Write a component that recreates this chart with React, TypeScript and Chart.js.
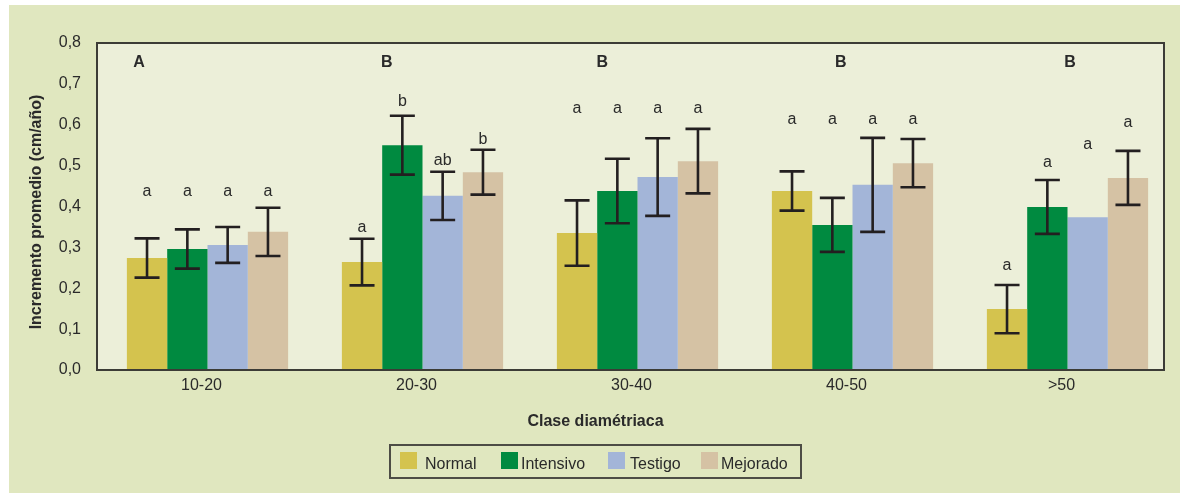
import React, { useEffect, useRef } from 'react';
import { Chart, registerables } from 'chart.js';

Chart.register(...registerables);

const categories = ['10-20', '20-30', '30-40', '40-50', '>50'];
const seriesNames = ['Normal', 'Intensivo', 'Testigo', 'Mejorado'];
const seriesColors = ['#d4c34e', '#008a40', '#a3b5d8', '#d5c2a4'];

const normal = [0.274, 0.264, 0.335, 0.438, 0.149];
const intensivo = [0.296, 0.55, 0.438, 0.355, 0.399];
const testigo = [0.306, 0.426, 0.472, 0.453, 0.374];
const mejorado = [0.338, 0.484, 0.511, 0.506, 0.47];

const normalErr = [0.048, 0.057, 0.08, 0.048, 0.059];
const intensivoErr = [0.048, 0.072, 0.079, 0.066, 0.066];
const testigoErr = [0.044, 0.059, 0.095, 0.115, null];
const mejoradoErr = [0.059, 0.055, 0.079, 0.059, 0.066];

const normalLetters = ['a', 'a', 'a', 'a', 'a'];
const intensivoLetters = ['a', 'b', 'a', 'a', 'a'];
const testigoLetters = ['a', 'ab', 'a', 'a', 'a'];
const mejoradoLetters = ['a', 'b', 'a', 'a', 'a'];

// baseline height (in axis units) of the significance letters
const normalLetterY = [0.426, 0.338, 0.629, 0.601, 0.245];
const intensivoLetterY = [0.426, 0.646, 0.629, 0.601, 0.496];
const testigoLetterY = [0.426, 0.502, 0.629, 0.601, 0.54];
const mejoradoLetterY = [0.426, 0.553, 0.629, 0.601, 0.595];

const groupLetters = ['A', 'B', 'B', 'B', 'B'];
const groupLetterY = 0.742;
const groupLetterShift = [-0.318, -0.166, -0.164, -0.054, 0.012];

const yMin = 0;
const yMax = 0.8;
const yStep = 0.1;

const xTitle = 'Clase diamétriaca';
const yTitle = 'Incremento promedio (cm/año)';

const values = [normal, intensivo, testigo, mejorado];
const errors = [normalErr, intensivoErr, testigoErr, mejoradoErr];
const letters = [normalLetters, intensivoLetters, testigoLetters, mejoradoLetters];
const letterYs = [normalLetterY, intensivoLetterY, testigoLetterY, mejoradoLetterY];

const FONT = '"Liberation Sans", Arial, Helvetica, sans-serif';
const TEXT = '#2a2a2a';

const decorPlugin = {
  id: 'decor',
  beforeDraw(chart: any) {
    const { ctx, chartArea } = chart;
    const l = chartArea.left - 3;
    const r = chartArea.right - 11;
    ctx.save();
    ctx.fillStyle = '#ecefd9';
    ctx.fillRect(l, chartArea.top, r - l, chartArea.bottom - chartArea.top);
    ctx.restore();
  },
  afterDatasetsDraw(chart: any) {
    const { ctx, chartArea, scales } = chart;
    const ys = scales.y;
    const xs = scales.x;
    ctx.save();
    // error bars
    ctx.strokeStyle = '#231f20';
    ctx.lineWidth = 2.6;
    ctx.lineCap = 'butt';
    values.forEach((_, i) => {
      const meta = chart.getDatasetMeta(i);
      meta.data.forEach((bar: any, j: number) => {
        const e = errors[i][j];
        if (e == null) return;
        const v = values[i][j];
        const yt = ys.getPixelForValue(v + e);
        const yb = ys.getPixelForValue(v - e);
        const x = bar.x;
        ctx.beginPath();
        ctx.moveTo(x, yt);
        ctx.lineTo(x, yb);
        ctx.moveTo(x - 12.5, yt);
        ctx.lineTo(x + 12.5, yt);
        ctx.moveTo(x - 12.5, yb);
        ctx.lineTo(x + 12.5, yb);
        ctx.stroke();
      });
    });
    // significance letters
    ctx.fillStyle = TEXT;
    ctx.font = `16px ${FONT}`;
    ctx.textAlign = 'center';
    ctx.textBaseline = 'alphabetic';
    values.forEach((_, i) => {
      const meta = chart.getDatasetMeta(i);
      meta.data.forEach((bar: any, j: number) => {
        ctx.fillText(letters[i][j], bar.x, ys.getPixelForValue(letterYs[i][j]));
      });
    });
    // group letters
    ctx.font = `bold 16px ${FONT}`;
    const catW = (xs.right - xs.left) / categories.length;
    groupLetters.forEach((g, j) => {
      const x = xs.getPixelForValue(j) + groupLetterShift[j] * catW;
      ctx.fillText(g, x, ys.getPixelForValue(groupLetterY));
    });
    // frame
    const l = chartArea.left - 3;
    const r = chartArea.right - 11;
    ctx.strokeStyle = '#3c3c36';
    ctx.lineWidth = 2;
    ctx.strokeRect(l, chartArea.top, r - l, chartArea.bottom - chartArea.top);

    // axis titles
    ctx.fillStyle = TEXT;
    ctx.font = `bold 16px ${FONT}`;
    ctx.textAlign = 'center';
    ctx.textBaseline = 'middle';
    ctx.fillText(xTitle, chart.width / 2 + 1, 416.5);
    ctx.save();
    ctx.translate(28, 207);
    ctx.rotate(-Math.PI / 2);
    ctx.fillText(yTitle, 0, 0);
    ctx.restore();

    // legend
    ctx.strokeStyle = '#4d4d45';
    ctx.lineWidth = 2;
    ctx.strokeRect(381, 440, 411, 33);
    const boxX = [391, 492, 599, 692];
    const textX = [416, 512, 621, 712];
    ctx.font = `16px ${FONT}`;
    ctx.textAlign = 'left';
    ctx.textBaseline = 'alphabetic';
    seriesNames.forEach((n, i) => {
      ctx.fillStyle = seriesColors[i];
      ctx.fillRect(boxX[i], 447, 17, 17);
      ctx.fillStyle = TEXT;
      ctx.fillText(n, textX[i], 464);
    });
    ctx.restore();
  },
};

export default function App() {
  const ref = useRef<HTMLCanvasElement>(null);
  useEffect(() => {
    if (!ref.current) return;
    const chart = new Chart(ref.current, {
      type: 'bar',
      data: {
        labels: categories,
        datasets: seriesNames.map((n, i) => ({
          label: n,
          data: values[i],
          backgroundColor: seriesColors[i],
          borderWidth: 0,
          categoryPercentage: 0.75,
          barPercentage: 1,
        })),
      },
      options: {
        animation: false,
        responsive: false,
        devicePixelRatio: 1,
        layout: { padding: { left: 0, top: 38, right: 5, bottom: 0 } },
        plugins: {
          legend: { display: false },
          tooltip: { enabled: false },
        },
        scales: {
          x: {
            grid: { display: false, drawTicks: false },
            border: { display: false },
            ticks: {
              color: TEXT,
              font: { family: FONT, size: 16 },
              padding: 6,
              labelOffset: -6,
              maxRotation: 0,
            },
            afterFit: (s: any) => {
              s.height = 123;
            },
          },
          y: {
            min: yMin,
            max: yMax,
            grid: { display: false, drawTicks: false },
            border: { display: false },
            ticks: {
              stepSize: yStep,
              color: TEXT,
              font: { family: FONT, size: 16 },
              padding: 19,
              callback: (v: any) => Number(v).toFixed(1).replace('.', ','),
            },
            afterFit: (s: any) => {
              s.width = 91;
            },
          },
        },
      },
      plugins: [decorPlugin],
    });
    return () => chart.destroy();
  }, []);
  return (
    <div
      style={{
        position: 'absolute',
        left: 9,
        top: 5,
        width: 1171,
        height: 488,
        background: '#e0e7bf',
      }}
    >
      <canvas ref={ref} width={1171} height={488} style={{ display: 'block' }} />
    </div>
  );
}
